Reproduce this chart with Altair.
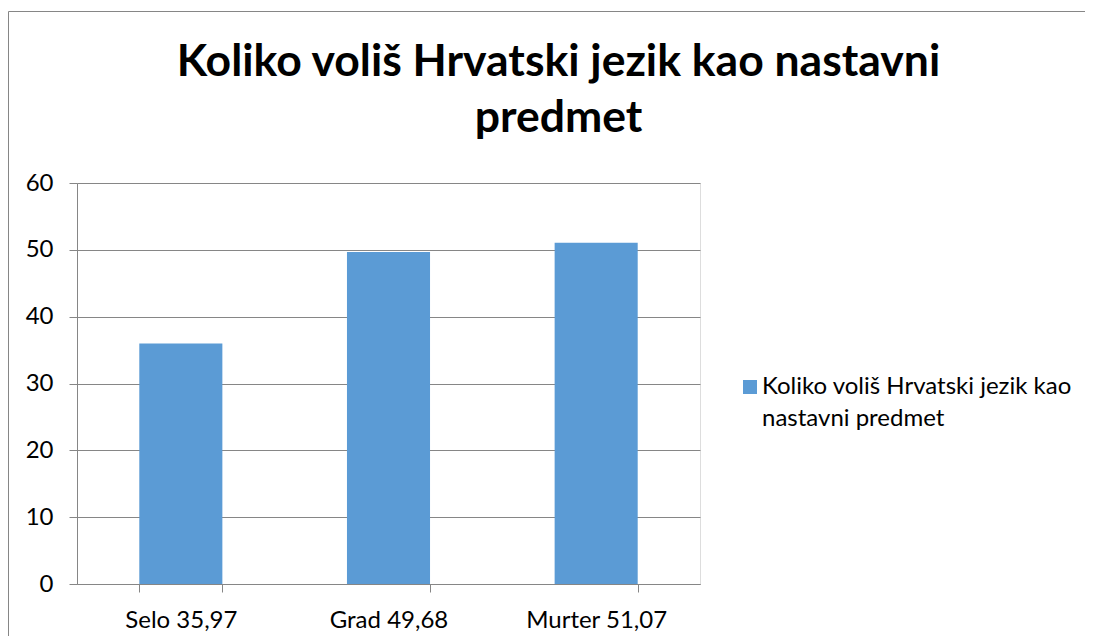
import altair as alt
import pandas as pd

categories = ["Selo 35,97", "Grad 49,68", "Murter 51,07"]
values = [35.97, 49.68, 51.07]
series_name = "Koliko voliš Hrvatski jezik kao nastavni predmet"
title_lines = ["Koliko voliš Hrvatski jezik kao nastavni", "predmet"]
legend_lines = ["Koliko voliš Hrvatski jezik kao", "nastavni predmet"]
y_ticks = [0, 10, 20, 30, 40, 50, 60]

FONT = "Lato"
GRID = "#868686"
LABEL_SIZE = 24

df = pd.DataFrame({"cat": categories, "val": values, "series": series_name})

bars = alt.Chart(df).mark_bar(color="#5B9BD5").encode(
    x=alt.X(
        "cat:N",
        sort=categories,
        title=None,
        scale=alt.Scale(paddingInner=0.6, paddingOuter=0.3),
        axis=alt.Axis(
            labelAngle=0,
            labelFont=FONT,
            labelFontSize=LABEL_SIZE,
            labelColor="#000000",
            labelPadding=16,
            tickBand="extent",
            tickSize=8,
            tickColor=GRID,
            domainColor=GRID,
            grid=False,
        ),
    ),
    y=alt.Y(
        "val:Q",
        title=None,
        scale=alt.Scale(domain=[0, 60], nice=False),
        axis=alt.Axis(
            values=y_ticks,
            labelFont=FONT,
            labelFontSize=LABEL_SIZE,
            labelColor="#000000",
            labelPadding=16,
            tickSize=8,
            tickColor=GRID,
            domainColor=GRID,
            gridColor=GRID,
            grid=True,
        ),
    ),
    color=alt.Color(
        "series:N",
        scale=alt.Scale(range=["#5B9BD5"]),
        legend=alt.Legend(
            title=None,
            orient="none",
            legendX=661,
            legendY=192,
            symbolType="square",
            symbolSize=196,
            symbolStrokeWidth=0,
            symbolOpacity=1,
            labelFont=FONT,
            labelFontSize=LABEL_SIZE,
            labelColor="#000000",
            labelLimit=400,
            labelOffset=0,
            labelExpr="['" + legend_lines[0] + "', '" + legend_lines[1] + "']",
            labelBaseline="middle",
        ),
    ),
)

border = alt.Chart(alt.Data(values=[{}])).mark_rect(
    fill=None, stroke=GRID, strokeWidth=1
).encode(
    x=alt.value(-68.5), x2=alt.value(1200), y=alt.value(-171.5), y2=alt.value(700)
)

chart = alt.layer(border, bars).properties(
    width=623,
    height=401,
    padding={"left": 69, "top": 175, "right": 385, "bottom": 52},
    autosize=alt.AutoSizeParams(type="none"),
    background="white",
    title=alt.TitleParams(
        text=title_lines,
        font=FONT,
        fontSize=44.5,
        fontWeight="bold",
        color="#000000",
        anchor="middle",
        baseline="alphabetic",
        dx=170,
        offset=-165,
        lineHeight=56,
    ),
).configure_view(stroke=None).configure(
    style={"guide-label": {"lineHeight": 32}}
)

chart.save("out.html", embed_options={"renderer": "svg", "actions": False})
